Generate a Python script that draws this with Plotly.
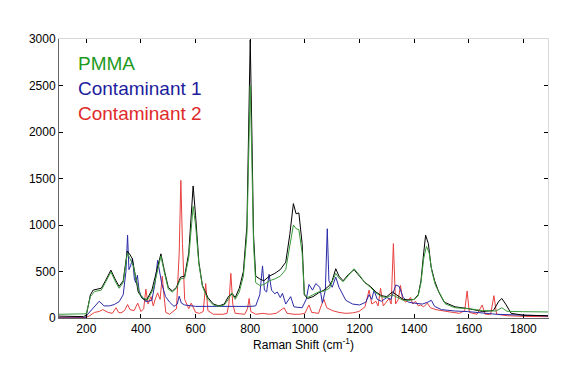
import plotly.graph_objects as go

# Raman shift (cm-1) and intensity points
black_x = [100,190,200,215,225,255,270,290,305,320,335,350,358,368,378,390,405,420,440,462,473,485,500,515,530,545,560,575,591,600,612,625,645,665,685,705,720,735,745,760,775,788,795,800,806,812,820,835,850,870,890,910,930,945,958,968,978,990,998,1010,1030,1050,1070,1090,1100,1113,1125,1140,1160,1180,1200,1220,1240,1260,1280,1300,1320,1340,1360,1380,1400,1415,1425,1435,1442,1452,1462,1475,1490,1510,1550,1600,1650,1690,1710,1721,1735,1755,1800,1890]
black_y = [20,15,30,250,300,320,400,515,420,340,400,720,690,640,480,280,210,190,300,560,690,520,330,290,330,440,450,700,1420,1100,600,350,220,150,130,150,230,260,220,320,500,1000,2000,2990,2000,900,450,420,400,450,480,520,600,900,1230,1120,1130,800,250,210,230,270,300,350,400,530,450,400,470,520,450,380,340,280,240,230,280,240,200,195,200,250,400,700,890,800,550,400,280,170,120,100,70,80,180,210,150,50,30,25]

pmma_x = [100,195,200,215,230,255,270,290,305,320,335,350,358,372,382,395,410,425,445,462,473,485,500,515,530,545,560,575,591,600,612,625,645,665,685,705,720,732,745,760,775,788,795,800,806,812,820,835,850,870,890,910,930,945,958,968,978,990,998,1010,1030,1050,1070,1090,1113,1125,1140,1160,1180,1200,1220,1240,1260,1280,1300,1320,1340,1360,1380,1400,1415,1425,1435,1445,1455,1465,1478,1495,1515,1550,1600,1650,1700,1721,1740,1800,1890]
pmma_y = [40,40,45,230,285,300,380,495,400,320,380,700,650,560,420,260,210,200,310,540,665,500,310,280,320,420,430,650,1200,1000,580,340,200,140,125,140,200,270,200,280,450,900,1700,2500,1700,800,380,350,360,400,420,450,520,800,1000,960,950,700,260,220,250,280,290,320,480,430,390,460,530,460,380,330,270,230,220,250,220,190,190,200,240,380,640,770,700,500,350,250,150,110,100,80,75,110,72,68,65]

c1_x = [100,195,205,225,247,265,285,302,320,335,345,351,356,362,369,376,381,387,393,400,418,440,452,461,468,476,490,505,521,533,540,548,560,600,640,680,720,760,800,820,835,845,852,860,869,878,890,899,910,918,930,948,960,990,1005,1015,1028,1040,1055,1064,1075,1082,1088,1100,1113,1125,1140,1150,1175,1200,1223,1235,1245,1253,1265,1280,1300,1315,1333,1345,1360,1380,1400,1430,1450,1463,1475,1500,1550,1600,1700,1800,1890]
c1_y = [0,0,40,110,180,130,130,145,175,250,500,890,520,560,640,420,380,460,300,240,175,190,380,620,500,370,230,170,125,150,235,160,140,125,125,125,120,120,125,130,250,560,300,280,470,300,260,280,220,265,150,230,120,110,200,360,300,370,330,160,300,960,400,330,440,330,250,190,150,140,170,250,200,300,200,180,220,200,355,340,220,170,160,150,170,190,125,90,75,68,40,28,22]

c2_x = [100,195,210,230,247,260,280,295,309,318,327,340,351,360,375,388,400,410,418,426,437,445,452,461,470,478,484,491,505,516,530,540,546,552,560,575,584,600,614,628,637,645,665,700,715,722,729,736,745,780,790,796,802,820,847,870,895,924,935,960,980,1000,1015,1025,1050,1062,1070,1080,1100,1125,1150,1175,1198,1220,1235,1245,1260,1268,1277,1287,1300,1308,1316,1324,1332,1342,1350,1358,1370,1387,1395,1405,1415,1424,1435,1448,1460,1480,1520,1566,1585,1594,1602,1630,1649,1660,1680,1692,1702,1740,1800,1890]
c2_y = [5,5,20,60,70,90,60,50,110,60,55,80,145,90,80,160,70,100,310,150,230,130,200,270,200,450,250,60,40,70,100,700,1480,800,200,100,160,60,50,70,370,80,40,40,50,150,480,150,50,40,100,210,70,40,50,40,50,110,50,40,40,50,140,60,50,150,200,110,80,60,50,55,70,120,300,150,180,130,320,130,180,210,150,800,150,200,350,200,170,220,150,180,130,140,120,160,110,90,70,50,80,290,60,40,140,40,40,240,40,25,18,14]

x_ticks = [200, 400, 600, 800, 1000, 1200, 1400, 1600, 1800]
y_ticks = [0, 500, 1000, 1500, 2000, 2500, 3000]
legend_labels = ["PMMA", "Contaminant 1", "Contaminant 2"]
x_title = "Raman Shift (cm<sup>-1</sup>)"

fig = go.Figure()
fig.add_trace(go.Scatter(x=c2_x, y=c2_y, mode="lines", line=dict(color="#e8403f", width=1), hoverinfo="skip"))
fig.add_trace(go.Scatter(x=c1_x, y=c1_y, mode="lines", line=dict(color="#2a2aa8", width=1), hoverinfo="skip"))
fig.add_trace(go.Scatter(x=black_x, y=black_y, mode="lines", line=dict(color="#000000", width=1), hoverinfo="skip"))
fig.add_trace(go.Scatter(x=pmma_x, y=pmma_y, mode="lines", line=dict(color="#3a9a3a", width=1), hoverinfo="skip"))
# helper trace for mirrored (top/right) axes
fig.add_trace(go.Scatter(x=[x_ticks[0]], y=[y_ticks[0]], xaxis="x2", yaxis="y2", mode="markers",
                         marker=dict(opacity=0), hoverinfo="skip"))

font = dict(family="Liberation Sans, Arial, sans-serif", size=12, color="#000")
# page body has an 8px margin, so the figure is sized to fit the 586x376 window
W, H = 578, 368
ML, MR, MT, MB = 51, 38, 31, 58
fig.update_layout(
    width=W, height=H,
    margin=dict(l=ML, r=MR, t=MT, b=MB),
    paper_bgcolor="white", plot_bgcolor="white",
    showlegend=False,
    font=font,
    xaxis=dict(range=[100, 1890], tickvals=x_ticks, ticks="inside", ticklen=4, tickcolor="#000",
               showline=True, linecolor="#666", linewidth=1, showgrid=False, zeroline=False,
               title=dict(text=x_title, standoff=3, font=dict(size=12))),
    yaxis=dict(range=[0, 3000], tickvals=y_ticks, ticks="inside", ticklen=4, tickcolor="#000",
               showline=True, linecolor="#666", linewidth=1, showgrid=False, zeroline=False),
    xaxis2=dict(range=[100, 1890], overlaying="x", side="top", tickvals=x_ticks, ticks="inside",
                ticklen=4, tickcolor="#000", showticklabels=False, showline=True, linecolor="#d8d8d8",
                showgrid=False, zeroline=False),
    yaxis2=dict(range=[0, 3000], overlaying="y", side="right", tickvals=y_ticks, ticks="inside",
                ticklen=4, tickcolor="#000", showticklabels=False, showline=True, linecolor="#d8d8d8",
                showgrid=False, zeroline=False),
)

label_colors = ["#1f9a1f", "#1c1c9c", "#e02a2a"]
plot_top, plot_h = 39, 376 - 39 - 58  # in window pixels
for i, (lab, col) in enumerate(zip(legend_labels, label_colors)):
    ypix = 63 + 25 * i
    fig.add_annotation(x=0.035, y=1 - (ypix - plot_top) / plot_h, xref="paper", yref="paper",
                       text=lab, showarrow=False, xanchor="left", yanchor="middle",
                       font=dict(size=19, color=col, family="Liberation Sans, Arial, sans-serif"))

fig.write_html("out.html")
